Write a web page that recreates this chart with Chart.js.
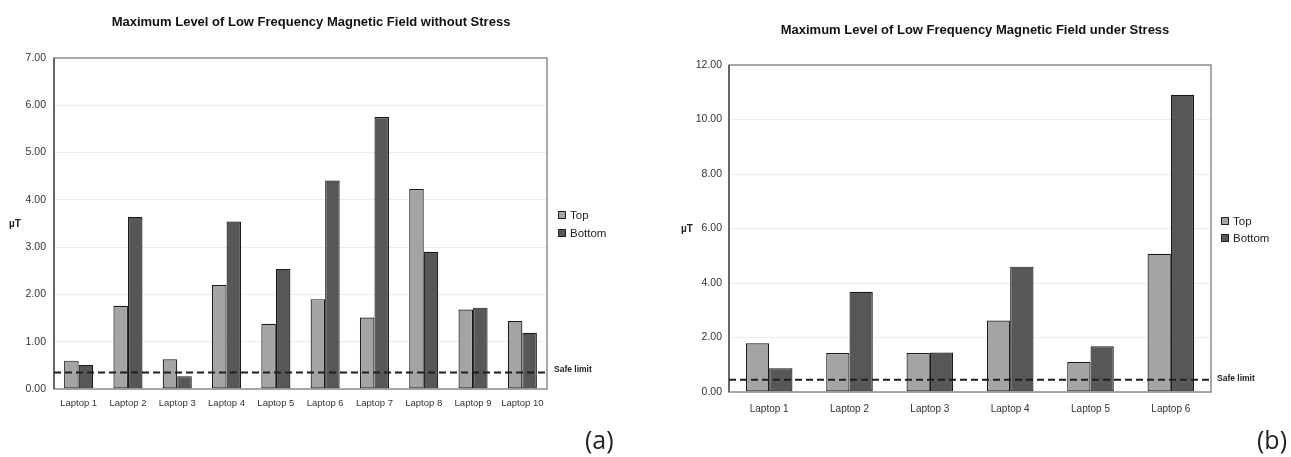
<!DOCTYPE html>
<html>
<head>
<meta charset="utf-8">
<script src="https://cdn.jsdelivr.net/npm/chart.js@4"></script>
<style>
  body { margin: 0; background: #fff; width: 1291px; height: 457px; overflow: hidden; position: relative; }
  canvas { position: absolute; top: 0; }
  #chartA { left: 0; }
  #chartB { left: 650px; }
  .tag { position: absolute; font-family: "Open Sans", sans-serif; font-size: 25px; color: #222; line-height: 30px; }
</style>
</head>
<body>
<canvas id="chartA" width="650" height="457"></canvas>
<canvas id="chartB" width="641" height="457"></canvas>
<div class="tag" style="left:585px; top:424px;">(a)</div>
<div class="tag" style="left:1257px; top:424px;">(b)</div>
<script>
const laptopsA = ['Laptop 1', 'Laptop 2', 'Laptop 3', 'Laptop 4', 'Laptop 5', 'Laptop 6', 'Laptop 7', 'Laptop 8', 'Laptop 9', 'Laptop 10'];
const topA = [0.60, 1.76, 0.63, 2.20, 1.38, 1.90, 1.51, 4.23, 1.68, 1.44];
const bottomA = [0.51, 3.64, 0.27, 3.54, 2.54, 4.41, 5.75, 2.90, 1.72, 1.19];
const safeLimitA = 0.35;

const laptopsB = ['Laptop 1', 'Laptop 2', 'Laptop 3', 'Laptop 4', 'Laptop 5', 'Laptop 6'];
const topB = [1.79, 1.43, 1.43, 2.62, 1.10, 5.07];
const bottomB = [0.87, 3.68, 1.45, 4.60, 1.68, 10.91];
const safeLimitB = 0.45;

const FONT = '"Liberation Sans", Arial, sans-serif';

// frame, safe limit line, title, legend and unit label
const decor = {
    id: 'decor',
    afterDatasetsDraw: function (chart, args, o) {
        const ctx = chart.ctx;
        const a = chart.chartArea;
        const y = chart.scales.y;
        ctx.save();
        ctx.strokeStyle = '#8c8c8c';
        ctx.lineWidth = 1.5;
        ctx.strokeRect(a.left, a.top, a.right - a.left, a.bottom - a.top);
        ctx.strokeStyle = '#505050';
        ctx.beginPath();
        ctx.moveTo(a.left, a.top);
        ctx.lineTo(a.left, a.bottom);
        ctx.stroke();

        const ly = y.getPixelForValue(o.safe);
        ctx.setLineDash([7, 4]);
        ctx.strokeStyle = '#1e1e1e';
        ctx.lineWidth = 2;
        ctx.beginPath();
        ctx.moveTo(a.left, ly);
        ctx.lineTo(a.right, ly);
        ctx.stroke();
        ctx.setLineDash([]);

        ctx.fillStyle = '#222';
        ctx.textBaseline = 'middle';
        ctx.textAlign = 'left';
        ctx.font = 'bold 8.5px ' + FONT;
        ctx.fillText('Safe limit', a.right + o.safeDx, ly + o.safeDy);

        ctx.font = 'bold 10px ' + FONT;
        ctx.fillText('\u00b5T', o.unitX, o.unitY);

        ctx.font = 'bold 13px ' + FONT;
        ctx.textAlign = 'center';
        ctx.fillStyle = '#111';
        ctx.fillText(o.title, o.titleX, o.titleY);

        ctx.textAlign = 'left';
        ctx.font = '11.5px ' + FONT;
        chart.data.datasets.forEach(function (ds, i) {
            const yy = o.legendY + i * o.legendGap;
            ctx.fillStyle = ds.backgroundColor;
            ctx.fillRect(o.legendX, yy - 4, 8, 8);
            ctx.strokeStyle = '#222';
            ctx.lineWidth = 1;
            ctx.strokeRect(o.legendX + 0.5, yy - 3.5, 7, 7);
            ctx.fillStyle = '#222';
            ctx.fillText(ds.label, o.legendX + 12, yy + 1);
        });
        ctx.restore();
    }
};

function makeChart(id, labels, top, bottom, s) {
    return new Chart(document.getElementById(id), {
        type: 'bar',
        data: {
            labels: labels,
            datasets: [{
                label: 'Top',
                data: top,
                backgroundColor: '#a4a4a4',
                borderColor: '#1a1a1a',
                borderWidth: 1.2,
                borderSkipped: false,
                categoryPercentage: s.catPct,
                barPercentage: 1
            }, {
                label: 'Bottom',
                data: bottom,
                backgroundColor: '#575757',
                borderColor: '#1a1a1a',
                borderWidth: 1.2,
                borderSkipped: false,
                categoryPercentage: s.catPct,
                barPercentage: 1
            }]
        },
        options: {
            responsive: false,
            animation: false,
            layout: {
                padding: { top: s.top, right: s.right, left: 0, bottom: 0 }
            },
            plugins: {
                legend: { display: false },
                title: { display: false },
                tooltip: { enabled: false },
                decor: s.decor
            },
            scales: {
                x: {
                    grid: { display: false, drawTicks: false },
                    border: { display: false },
                    ticks: {
                        padding: s.xPad,
                        color: '#333',
                        font: { family: FONT, size: s.xFont },
                        maxRotation: 0,
                        autoSkip: false
                    },
                    afterFit: function (scale) { scale.height = s.xHeight; }
                },
                y: {
                    min: 0,
                    max: s.max,
                    grid: { color: '#ececec', drawTicks: false },
                    border: { display: false },
                    ticks: {
                        stepSize: s.step,
                        padding: s.yPad,
                        color: '#333',
                        font: { family: FONT, size: 10.5 },
                        callback: function (v) { return v.toFixed(2); }
                    },
                    afterFit: function (scale) { scale.width = s.yWidth; }
                }
            }
        },
        plugins: [decor]
    });
}

const chartA = makeChart('chartA', laptopsA, topA, bottomA, {
    catPct: 0.59, top: 58, right: 103, max: 7, step: 1,
    xHeight: 68, xPad: 9, xFont: 9.5, yWidth: 54, yPad: 8,
    decor: {
        safe: safeLimitA, safeDx: 7, safeDy: -3,
        unitX: 9, unitY: 224,
        title: 'Maximum Level of Low Frequency Magnetic Field without Stress', titleX: 311, titleY: 22,
        legendX: 558, legendY: 215, legendGap: 18
    }
});

const chartB = makeChart('chartB', laptopsB, topB, bottomB, {
    catPct: 0.58, top: 65, right: 80, max: 12, step: 2,
    xHeight: 65, xPad: 11, xFont: 10, yWidth: 79, yPad: 7,
    decor: {
        safe: safeLimitB, safeDx: 6, safeDy: -1,
        unitX: 31, unitY: 229,
        title: 'Maximum Level of Low Frequency Magnetic Field under Stress', titleX: 325, titleY: 30,
        legendX: 571, legendY: 221, legendGap: 17
    }
});
</script>
</body>
</html>
